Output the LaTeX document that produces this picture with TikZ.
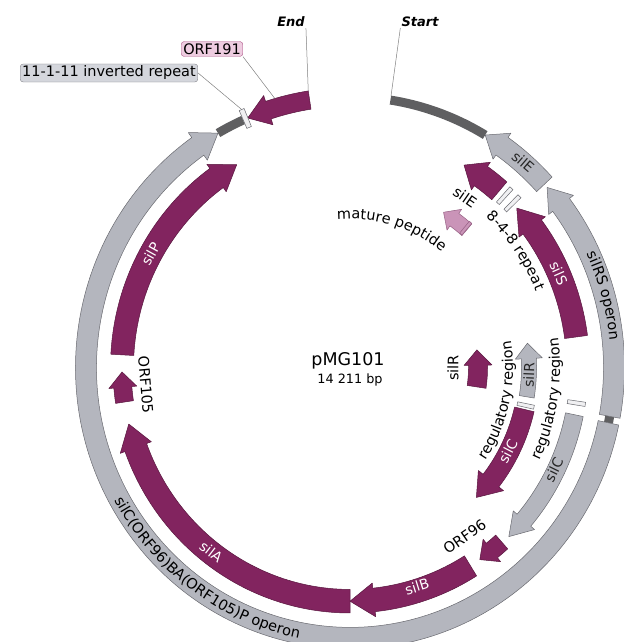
\documentclass[tikz,border=0pt]{standalone}
\usepackage{fontspec}
\setmainfont{DejaVu Sans}
\usetikzlibrary{decorations.text}

\definecolor{silmag}{RGB}{130,36,95}
\definecolor{silmagline}{RGB}{88,22,62}
\definecolor{silgrey}{RGB}{180,182,190}
\definecolor{silgreyline}{RGB}{105,106,112}
\definecolor{silbar}{RGB}{95,95,97}
\definecolor{peptide}{RGB}{202,148,184}
\definecolor{peptideline}{RGB}{150,96,132}
\definecolor{orfbox}{RGB}{238,204,224}
\definecolor{orfboxline}{RGB}{172,84,134}
\definecolor{irbox}{RGB}{212,214,220}
\definecolor{irboxline}{RGB}{130,130,136}

\newcommand{\lab}{\fontsize{14.5}{17}\selectfont}
\newcommand{\inlab}{\fontsize{14}{16}\selectfont}

% arrow on a ring: style, radius, tail angle, tip angle, body width, head width, head length
\newcommand{\genearrow}[7]{%
  \pgfmathsetmacro{\gs}{(#4>#3) ? 1 : -1}%
  \pgfmathsetmacro{\gb}{#4-(\gs)*(#7)/(#2)*57.2958}%
  \pgfmathsetmacro{\gri}{#2-(#5)/2}%
  \pgfmathsetmacro{\gro}{#2+(#5)/2}%
  \pgfmathsetmacro{\ghi}{#2-(#6)/2}%
  \pgfmathsetmacro{\gho}{#2+(#6)/2}%
  \draw[#1] (#3:\gri) arc[start angle=#3, end angle=\gb, radius=\gri pt] -- (\gb:\ghi) -- (#4:#2)
    -- (\gb:\gho) -- (\gb:\gro) arc[start angle=\gb, end angle=#3, radius=\gro pt] -- cycle;}
% small bar across a ring: style, angle, inner r, outer r, half width
\newcommand{\sitemark}[5]{%
  \pgfmathsetmacro{\sma}{#2-#5}\pgfmathsetmacro{\smb}{#2+#5}%
  \draw[#1] (\sma:#3) -- (\sma:#4) -- (\smb:#4) -- (\smb:#3) -- cycle;}
% text along a ring: radius, from, to, text
\newcommand{\ringtext}[4]{%
  \path[decorate,decoration={text along path,text align=center,text={|\lab|#4}}]
    (#2:#1) arc[start angle=#2, end angle=#3, radius=#1pt];}

\begin{document}
\begin{tikzpicture}[x=1pt,y=1pt,yscale=1.025,
  magarrow/.style={fill=silmag,draw=silmagline,line width=0.5pt,line join=round},
  greyarrow/.style={fill=silgrey,draw=silgreyline,line width=0.5pt,line join=round},
  pinkarrow/.style={fill=peptide,draw=peptideline,line width=0.5pt,line join=round},
  darkbar/.style={draw=silbar,line width=9pt},
  sitebar/.style={fill=white!80!silgrey,draw=silgreyline,line width=0.5pt},
  callout/.style={draw=gray,line width=0.5pt},
  inw/.style={font=\inlab,text=white,inner sep=0pt},
  ink/.style={font=\inlab,text=black!85,inner sep=0pt},
  lbl/.style={font=\lab,inner sep=0pt}]
\useasboundingbox (-350,-267.8) rectangle (273,358.5);

% backbone
\draw[darkbar] (59.2:264) arc[start angle=59.2, end angle=81.2, radius=264pt];
\draw[darkbar] (113.9:264) arc[start angle=113.9, end angle=120, radius=264pt];
\draw[darkbar] (-10.4:264) arc[start angle=-10.4, end angle=-11.8, radius=264pt];

% outer ring
\genearrow{greyarrow}{264}{42.6}{59.2}{21}{31}{20}
\genearrow{greyarrow}{264}{-10.4}{41.7}{21}{31}{22}
\genearrow{greyarrow}{264}{348.2}{120}{21}{33}{24}
\genearrow{magarrow}{264}{98.8}{112.8}{18}{30}{22}
\sitemark{sitebar}{113.3}{255}{274}{0.55}

% ring of genes
\genearrow{magarrow}{228}{176.9}{119.8}{23}{33}{24}
\genearrow{magarrow}{228}{188.5}{181.1}{18}{28}{15}
\genearrow{magarrow}{228}{270}{194}{23}{33}{24}
\genearrow{magarrow}{228}{301.9}{270}{23}{33}{24}
\genearrow{magarrow}{228}{311.7}{304.7}{18}{28}{15}
\genearrow{greyarrow}{229}{348.4}{313.9}{18}{28}{22}
\genearrow{magarrow}{228}{7.5}{43}{23}{33}{24}
\genearrow{magarrow}{228}{49.1}{60}{23}{33}{20}
\sitemark{sitebar}{-8.7}{220}{238}{0.5}
\sitemark{sitebar}{44.6}{218}{238}{0.5}
\sitemark{sitebar}{47.3}{218}{238}{0.5}

% inner rings
\genearrow{magarrow}{179}{-13.2}{-45.1}{20}{32}{22}
\genearrow{greyarrow}{179}{-9.2}{7.6}{15}{27}{15}
\genearrow{pinkarrow}{178}{49}{58.3}{15}{25}{13}
\sitemark{sitebar}{-11.9}{171}{188}{0.6}
\sitemark{pinkarrow}{49.6}{171}{186}{0.5}
\genearrow{magarrow}{128}{-8.5}{7.7}{19}{28}{15}

% names inside the arrows
\node[ink,rotate=-40.8] (silEtxt) at (49.2:265) {silE};
\node[inw,rotate=-66.2] (silStxt) at (23.8:228) {silS};
\node[inw,rotate=61] (silPtxt) at (151:228) {silP};
\node[inw,rotate=-37.7] (silAtxt) at (232.3:227) {silA};
\node[inw,rotate=17.4] (silBtxt) at (287.4:224) {silB};
\node[inw,rotate=62.6] (silCtxt) at (-27.4:178) {silC};
\node[ink,rotate=63.9] (silCgtxt) at (-26.1:227) {silC};
\node[ink,rotate=87.6] (silRgtxt) at (-2.4:179) {silR};

% labels
\node[lbl,rotate=-34.7] (silElbl) at (55.3:202) {silE};
\node[lbl,rotate=89.7] (silRlbl) at (-0.3:103) {silR};
\node[lbl,rotate=34.8] (orf96lbl) at (-55.2:201) {ORF96};
\node[lbl,rotate=274.8] (orf105lbl) at (184.8:205) {ORF105};
\ringtext{269}{199}{269}{silC(ORF96)BA(ORF105)P operon}
\ringtext{261}{35.5}{-4.5}{silRS operon}
\ringtext{145}{110}{36}{mature peptide}
\ringtext{200}{54.6}{14.6}{8-4-8 repeat}
\ringtext{163}{-42.3}{17.7}{regulatory region}
\ringtext{210}{-38.9}{21.1}{regulatory region}

% centre
\node[font=\fontsize{17.5}{20}\selectfont] (plasmid) at (-2,6.3) {pMG101};
\node[font=\fontsize{12.8}{15}\selectfont] (size) at (0,-12.2) {14 211 bp};

% callouts
\node[font=\fontsize{13}{15}\selectfont\bfseries\itshape,inner sep=1pt] (endlbl) at (-59,337.1) {End};
\node[font=\fontsize{13}{15}\selectfont\bfseries\itshape,inner sep=1pt] (startlbl) at (70,337.1) {Start};
\node[lbl,fill=orfbox,draw=orfboxline,rounded corners=3pt,inner sep=2pt] (orflbl) at (-138,310.7) {ORF191};
\node[lbl,fill=irbox,draw=irboxline,rounded corners=3pt,inner sep=2pt] (irlbl) at (-241,287.3) {11-1-11 inverted repeat};
\coordinate (orfend) at (98.8:273);
\coordinate (startpt) at (81.2:268);
\coordinate (orfpt) at (106:273);
\coordinate (irtop) at (113.3:274);
\draw[callout] (endlbl.south east) -- (orfend);
\draw[callout] (startlbl.south west) -- (startpt);
\draw[callout] (orflbl.south east) -- (orfpt);
\draw[callout] (irlbl.east) -- (irtop);
\end{tikzpicture}
\end{document}
